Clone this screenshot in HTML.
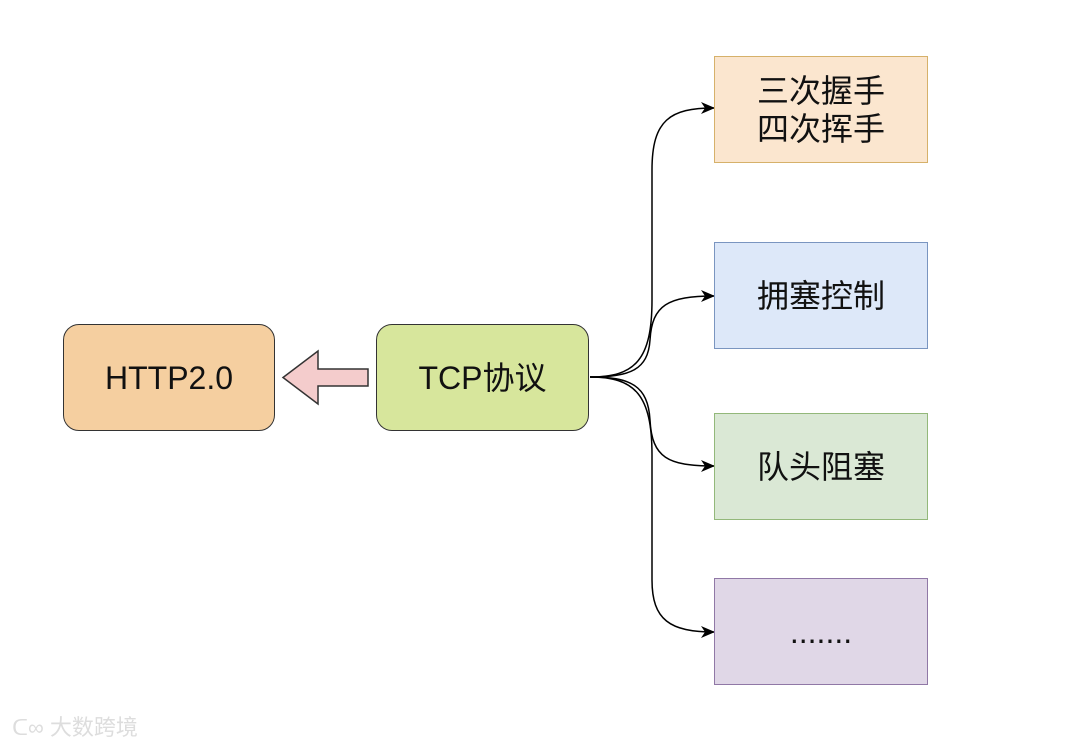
<!DOCTYPE html>
<html><head><meta charset="utf-8"><style>
html,body{margin:0;padding:0;background:#fff;}
body{width:1080px;height:748px;position:relative;overflow:hidden;font-family:"Liberation Sans","Noto Sans CJK SC",sans-serif;}
.b{position:absolute;box-sizing:border-box;display:flex;align-items:center;justify-content:center;text-align:center;font-size:32px;color:#111;line-height:38px;}
</style></head><body>
<svg width="1080" height="748" style="position:absolute;left:0;top:0">
<defs><marker id="a" markerWidth="14" markerHeight="14" refX="13" refY="7" orient="auto" markerUnits="userSpaceOnUse"><path d="M0,1 L14,7 L0,13 L4,7 z" fill="#000"/></marker></defs>
<g fill="none" stroke="#000" stroke-width="1.5" marker-end="url(#a)">
<path d="M590,377 C635,377 652,360 652,300 L652,170 C652,120 670,108 714,108"/>
<path d="M590,377 C630,377 648,370 650,340 C652,305 668,296 714,296"/>
<path d="M590,377 C630,377 648,385 650,420 C652,458 668,466 714,466"/>
<path d="M590,377 C635,377 652,395 652,455 L652,580 C652,620 670,632 714,632"/>
</g>
<path d="M368,369 L318,369 L318,351 L283,377.5 L318,404 L318,386 L368,386 Z" fill="#f4cccc" stroke="#333" stroke-width="1.5"/>
<text x="12" y="735" font-size="22" fill="#ddd" font-family="Liberation Sans,Noto Sans CJK SC,sans-serif">ᑕ∞ 大数跨境</text>
</svg>
<div class="b" style="left:63px;top:324px;width:212px;height:107px;background:#f5cfa0;border:1.5px solid #333;border-radius:16px;">HTTP2.0</div>
<div class="b" style="left:376px;top:324px;width:213px;height:107px;background:#d7e69c;border:1.5px solid #333;border-radius:16px;">TCP协议</div>
<div class="b" style="left:714px;top:56px;width:214px;height:107px;background:#fbe6cf;border:1.5px solid #d6b16a;">三次握手<br>四次挥手</div>
<div class="b" style="left:714px;top:242px;width:214px;height:107px;background:#dde8f9;border:1.5px solid #7a95c0;">拥塞控制</div>
<div class="b" style="left:714px;top:413px;width:214px;height:107px;background:#dae8d5;border:1.5px solid #93b87a;">队头阻塞</div>
<div class="b" style="left:714px;top:578px;width:214px;height:107px;background:#e0d7e7;border:1.5px solid #9078a6;">.......</div>
</body></html>
